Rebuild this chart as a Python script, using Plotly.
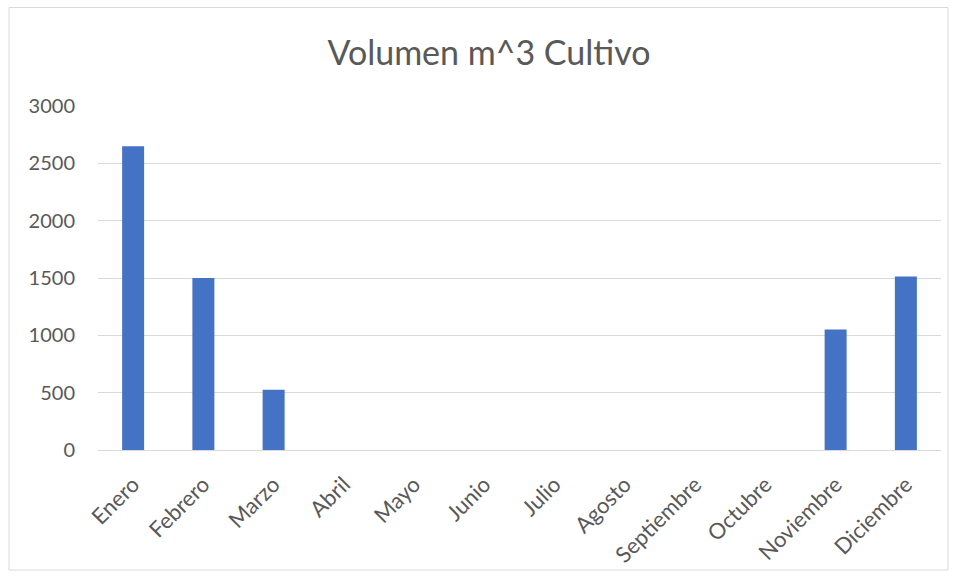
import plotly.graph_objects as go

# Monthly cultivation volume (m^3)
meses = ["Enero", "Febrero", "Marzo", "Abril", "Mayo", "Junio", "Julio",
         "Agosto", "Septiembre", "Octubre", "Noviembre", "Diciembre"]
volumen = [2650, 1500, 525, 0, 0, 0, 0, 0, 0, 0, 1050, 1512]
y_ticks = [0, 500, 1000, 1500, 2000, 2500, 3000]

W, H = 957, 579
L, R, T, B = 98, 16, 106, 129
pw, ph = W - L - R, H - T - B

def px_x(x):
    return (x - L) / pw

def px_y(y):
    return (H - B - y) / ph

FONT = "Lato"
GRAY = "#595959"

fig = go.Figure(go.Bar(
    x=meses, y=volumen,
    marker=dict(color="#4472C4", line=dict(width=0)),
))

fig.update_layout(
    width=W, height=H,
    margin=dict(l=L, r=R, t=T, b=B),
    paper_bgcolor="white", plot_bgcolor="white",
    bargap=0.687,
    showlegend=False,
    font=dict(family=FONT, color=GRAY),
    title=dict(text="Volumen m^3 Cultivo", x=px_x(489), xref="paper",
               xanchor="center", y=1 - 53 / H, yanchor="middle",
               font=dict(family=FONT, size=34, color=GRAY)),
    xaxis=dict(tickangle=-45, tickfont=dict(size=22, color=GRAY),
               showgrid=False, showline=True, linecolor="#D9D9D9",
               linewidth=1, ticks="", ticklabelstandoff=12),
    yaxis=dict(range=[0, 3000], tickvals=y_ticks,
               tickfont=dict(size=20, color=GRAY),
               showgrid=True, gridcolor="#D9D9D9", gridwidth=1,
               zeroline=False, showline=False, ticks="",
               ticklabelstandoff=22),
    shapes=[dict(type="rect", xref="paper", yref="paper",
                 x0=px_x(9), x1=px_x(948), y0=px_y(570), y1=px_y(7.5),
                 line=dict(color="#D9D9D9", width=1), fillcolor="rgba(0,0,0,0)",
                 layer="below")],
)

fig.write_html("out.html")
